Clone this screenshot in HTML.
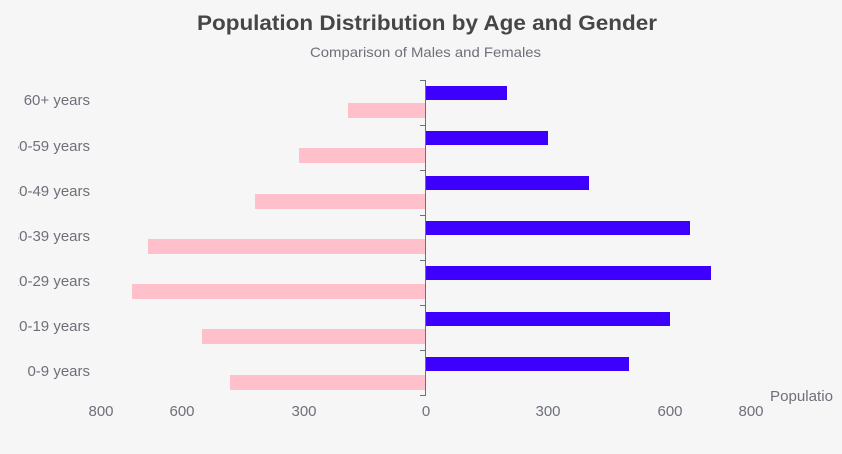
<!DOCTYPE html>
<html><head><meta charset="utf-8"><style>
html,body{margin:0;padding:0;background:#f6f6f6;}
svg{display:block;font-family:"Liberation Sans",sans-serif;}
</style></head><body>
<svg width="842" height="454" viewBox="0 0 842 454">
<rect width="842" height="454" fill="#f6f6f6"/>
<text x="197" y="30" font-size="21" font-weight="bold" fill="#464646" textLength="460" lengthAdjust="spacingAndGlyphs">Population Distribution by Age and Gender</text>
<text x="310" y="57" font-size="14" fill="#6e7079" textLength="231" lengthAdjust="spacingAndGlyphs">Comparison of Males and Females</text>
<defs><clipPath id="c"><rect x="18" y="0" width="100" height="454"/></clipPath></defs>
<g font-size="15" fill="#6e7079" text-anchor="end" clip-path="url(#c)">
<text x="90" y="105">60+ years</text>
<text x="90" y="151">50-59 years</text>
<text x="90" y="196">40-49 years</text>
<text x="90" y="241">30-39 years</text>
<text x="90" y="286">20-29 years</text>
<text x="90" y="331">10-19 years</text>
<text x="90" y="376">0-9 years</text>
</g>
<g fill="#3d00ff">
<rect x="426" y="86" width="81" height="14"/>
<rect x="426" y="131" width="122" height="14"/>
<rect x="426" y="176" width="163" height="14"/>
<rect x="426" y="221" width="264" height="14"/>
<rect x="426" y="266" width="285" height="14"/>
<rect x="426" y="312" width="244" height="14"/>
<rect x="426" y="357" width="203" height="14"/>
</g>
<g fill="#ffc0cb">
<rect x="348" y="103" width="78" height="15"/>
<rect x="299" y="148" width="127" height="15"/>
<rect x="255" y="194" width="171" height="15"/>
<rect x="148" y="239" width="278" height="15"/>
<rect x="132" y="284" width="294" height="15"/>
<rect x="202" y="329" width="224" height="15"/>
<rect x="230" y="375" width="196" height="15"/>
</g>
<g stroke="#6e7079" stroke-width="1" fill="none">
<line x1="425.5" y1="80" x2="425.5" y2="396"/>
<line x1="420" y1="80.5" x2="425.5" y2="80.5"/>
<line x1="420" y1="125.5" x2="425.5" y2="125.5"/>
<line x1="420" y1="170.5" x2="425.5" y2="170.5"/>
<line x1="420" y1="215.5" x2="425.5" y2="215.5"/>
<line x1="420" y1="260.5" x2="425.5" y2="260.5"/>
<line x1="420" y1="305.5" x2="425.5" y2="305.5"/>
<line x1="420" y1="350.5" x2="425.5" y2="350.5"/>
<line x1="420" y1="395.5" x2="425.5" y2="395.5"/>
</g>
<g font-size="15" fill="#6e7079" text-anchor="middle">
<text x="101" y="416">800</text>
<text x="182" y="416">600</text>
<text x="304" y="416">300</text>
<text x="426" y="416">0</text>
<text x="548" y="416">300</text>
<text x="670" y="416">600</text>
<text x="751" y="416">800</text>
</g>
<text x="770" y="401" font-size="15" fill="#6e7079" textLength="63" lengthAdjust="spacingAndGlyphs">Populatio</text>
</svg>
</body></html>
